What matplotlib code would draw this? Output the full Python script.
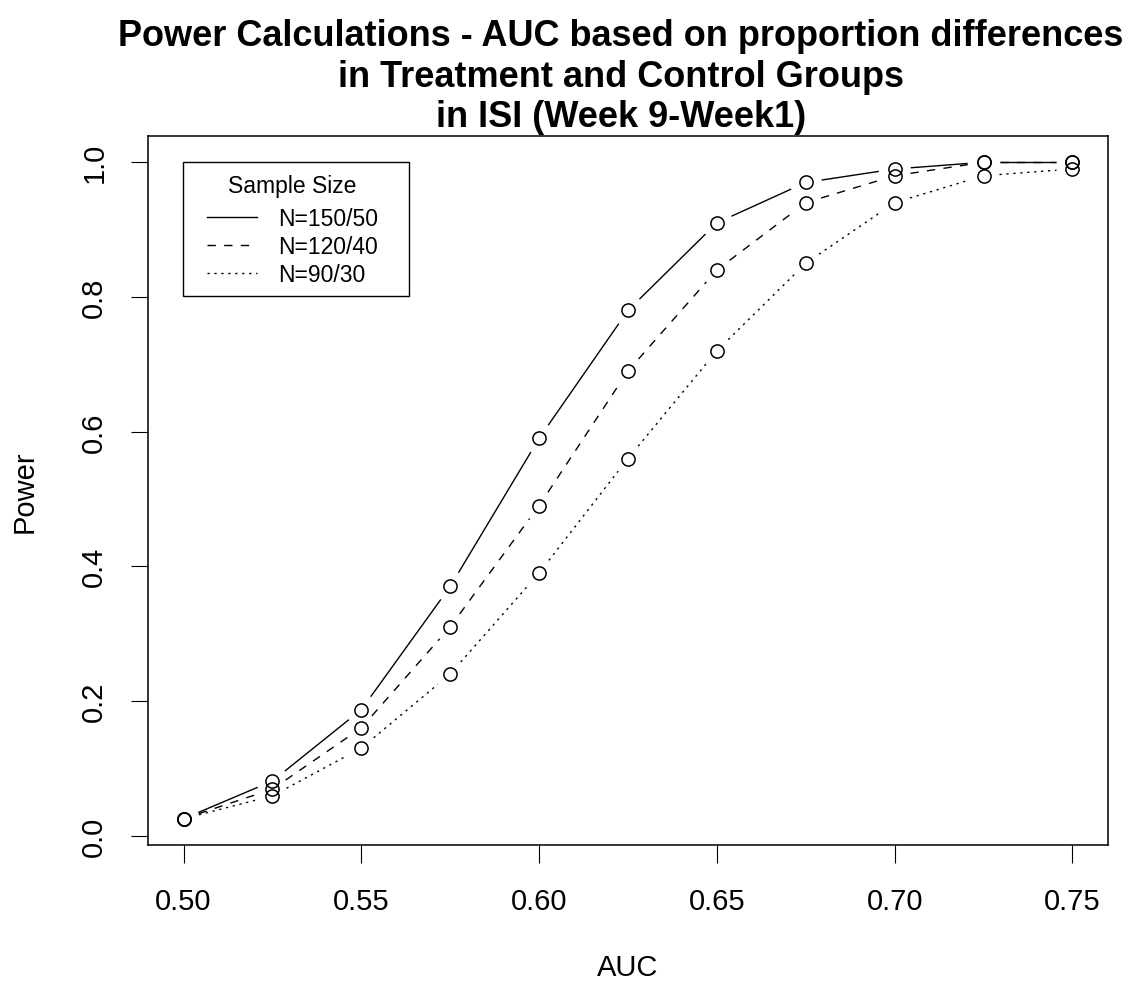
import numpy as np
import matplotlib
matplotlib.use("Agg")
import matplotlib.pyplot as plt
from matplotlib.patches import Rectangle

plt.rcParams['font.family'] = ['Liberation Sans', 'DejaVu Sans']

# power values
auc = [0.500, 0.525, 0.550, 0.575, 0.600, 0.625, 0.650, 0.675, 0.700, 0.725, 0.750]
power_150_50 = [0.025, 0.081, 0.187, 0.37, 0.59, 0.78, 0.91, 0.97, 0.99, 1.00, 1.00]
power_120_40 = [0.025, 0.069, 0.16, 0.31, 0.49, 0.69, 0.84, 0.94, 0.98, 1.00, 1.00]
power_90_30 = [0.025, 0.059, 0.13, 0.24, 0.39, 0.56, 0.72, 0.85, 0.94, 0.98, 0.99]

labels = ['N=150/50', 'N=120/40', 'N=90/30']
series = [power_150_50, power_120_40, power_90_30]
dashes = [None, (6, 6), (1.6, 3.4)]

fig = plt.figure(figsize=(11.32, 9.87), dpi=100)
ax = fig.add_axes([148 / 1132, 1 - 846 / 987, 960 / 1132, 709 / 987])
ax.set_xlim(0.49, 0.76)
ax.set_ylim(-0.014, 1.039)
fig.canvas.draw()

gap = 16  # pixels left blank around each point, like R type="b"


def gapped_segments(x, y):
    pts = ax.transData.transform(np.column_stack([x, y]))
    segs = []
    for p0, p1 in zip(pts[:-1], pts[1:]):
        d = p1 - p0
        length = np.hypot(*d)
        if length <= 2 * gap:
            continue
        u = d / length
        a = ax.transData.inverted().transform(p0 + u * gap)
        b = ax.transData.inverted().transform(p1 - u * gap)
        segs.append((a, b))
    return segs


handles = []
for vals, lab, ds in zip(series, labels, dashes):
    for a, b in gapped_segments(auc, vals):
        ln, = ax.plot([a[0], b[0]], [a[1], b[1]], color='black', lw=1.0,
                      solid_capstyle='butt', dash_capstyle='butt')
        if ds is not None:
            ln.set_dashes(ds)
    ax.plot(auc, vals, linestyle='none', marker='o', markersize=9.5,
            markerfacecolor='none', markeredgecolor='black', markeredgewidth=1.1)
    h, = ax.plot([], [], color='black', lw=1.0, dash_capstyle='butt')
    if ds is not None:
        h.set_dashes(ds)
    h.set_label(lab)
    handles.append(h)

ax.set_xticks([0.50, 0.55, 0.60, 0.65, 0.70, 0.75])
ax.set_xticklabels(['0.50', '0.55', '0.60', '0.65', '0.70', '0.75'])
ax.set_yticks([0.0, 0.2, 0.4, 0.6, 0.8, 1.0])
ax.set_yticklabels(['0.0', '0.2', '0.4', '0.6', '0.8', '1.0'], rotation=90, va='center')
ax.tick_params(axis='both', labelsize=21, length=12.6, width=0.8)
ax.tick_params(axis='x', pad=18)
ax.tick_params(axis='y', pad=16)
for s in ax.spines.values():
    s.set_linewidth(1.1)

ax.set_xlabel('AUC', fontsize=21, labelpad=27)
ax.set_ylabel('Power', fontsize=21, labelpad=30)
ax.set_title('Power Calculations - AUC based on proportion differences\n'
             'in Treatment and Control Groups\nin ISI (Week 9-Week1)',
             fontsize=26, fontweight='bold', pad=7, linespacing=1.2, x=0.4927)

# legend content without frame, box drawn separately (R style wide box)
leg = ax.legend(handles=handles, title='Sample Size', loc='upper left',
                bbox_to_anchor=(0.0615, 0.9468), fontsize=16.5, title_fontsize=16.5,
                frameon=False, handlelength=2.2, handletextpad=0.9, labelspacing=0.22,
                borderpad=0, borderaxespad=0)
leg._legend_box.sep = 7.6  # extra room under the legend title
ax.add_patch(Rectangle((0.0365, 0.7743), 0.2354, 0.189, transform=ax.transAxes,
                       fill=False, edgecolor='black', linewidth=1.0, zorder=5))

fig.savefig('out.png', dpi=100)
